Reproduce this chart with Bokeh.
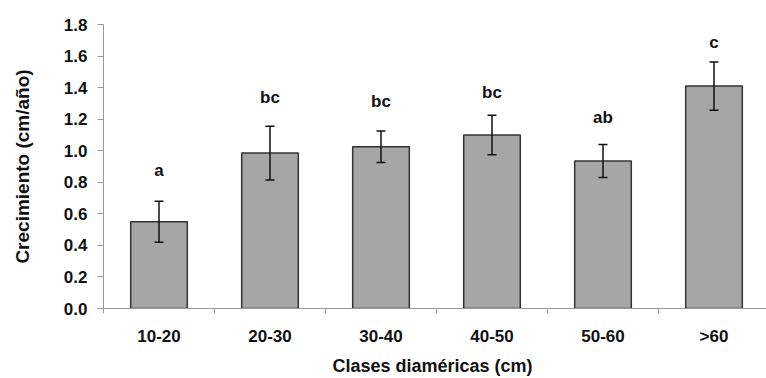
from bokeh.plotting import figure
from bokeh.models import ColumnDataSource, Whisker, TeeHead, FixedTicker, PrintfTickFormatter, Range1d
from bokeh.core.properties import value
from bokeh.embed import file_html
from bokeh.resources import INLINE

# Mean diameter growth per diameter class, with standard error and test letters
categories = ["10-20", "20-30", "30-40", "40-50", "50-60", ">60"]
growth = [0.55, 0.985, 1.025, 1.10, 0.935, 1.41]
error = [0.13, 0.17, 0.10, 0.125, 0.105, 0.153]
letters = ["a", "bc", "bc", "bc", "ab", "c"]
letter_y = [0.875, 1.335, 1.315, 1.37, 1.21, 1.685]

FONT = "Liberation Sans"
TXT = "#111111"

x = [i + 0.5 for i in range(len(categories))]
src = ColumnDataSource(dict(
    x=x,
    top=growth,
    upper=[g + e for g, e in zip(growth, error)],
    lower=[g - e for g, e in zip(growth, error)],
    letter=letters,
    ly=letter_y,
))

p = figure(width=766, height=378, output_backend="svg", toolbar_location=None,
           x_range=Range1d(0, 5.973), y_range=Range1d(0, 1.8),
           min_border_left=103, min_border_right=0, min_border_top=24, min_border_bottom=70)
p.outline_line_color = None
p.xgrid.visible = False
p.ygrid.visible = False

p.vbar(x="x", top="top", width=0.51, bottom=0, source=src,
       fill_color="#a6a6a6", line_color="#333333", line_width=1.5)

w = Whisker(base="x", upper="upper", lower="lower", source=src,
            line_color="#111111", line_width=1.5, level="overlay",
            upper_head=TeeHead(size=9, line_color="#111111", line_width=1.5),
            lower_head=TeeHead(size=9, line_color="#111111", line_width=1.5))
p.add_layout(w)

p.text(x="x", y="ly", text="letter", source=src, text_font=value(FONT),
       text_font_style="bold", text_font_size="17px", text_align="center",
       text_baseline="middle", text_color=TXT)

# y axis
ya = p.yaxis[0]
ya.ticker = FixedTicker(ticks=[round(0.2 * i, 1) for i in range(10)])
ya.formatter = PrintfTickFormatter(format="%.1f")
ya.axis_line_color = "#9a9a9a"
ya.major_tick_line_color = "#9a9a9a"
ya.major_tick_out = 6
ya.major_tick_in = 0
ya.minor_tick_line_color = None
ya.major_label_text_font = FONT
ya.major_label_text_font_style = "bold"
ya.major_label_text_font_size = "17px"
ya.major_label_text_color = TXT
ya.major_label_standoff = 10
ya.axis_label = "Crecimiento (cm/año)"
ya.axis_label_text_font = FONT
ya.axis_label_text_font_style = "bold"
ya.axis_label_text_font_size = "19px"
ya.axis_label_text_color = TXT
ya.axis_label_standoff = 28

# x axis: labels at class centres, ticks at class boundaries
xa = p.xaxis[0]
xa.ticker = FixedTicker(ticks=x, minor_ticks=list(range(len(categories) + 1)))
xa.major_label_overrides = {v: c for v, c in zip(x, categories)}
xa.axis_line_color = "#9a9a9a"
xa.major_tick_line_color = None
xa.major_tick_out = 0
xa.major_tick_in = 0
xa.minor_tick_line_color = "#9a9a9a"
xa.minor_tick_out = 5
xa.minor_tick_in = 0
xa.major_label_text_font = FONT
xa.major_label_text_font_style = "bold"
xa.major_label_text_font_size = "17px"
xa.major_label_text_color = TXT
xa.major_label_standoff = 13
xa.axis_label = "Clases  diaméricas (cm)"
xa.axis_label_text_font = FONT
xa.axis_label_text_font_style = "bold"
xa.axis_label_text_font_size = "18px"
xa.axis_label_text_color = TXT
xa.axis_label_standoff = 7

open("out.html", "w").write(file_html(p, INLINE))
